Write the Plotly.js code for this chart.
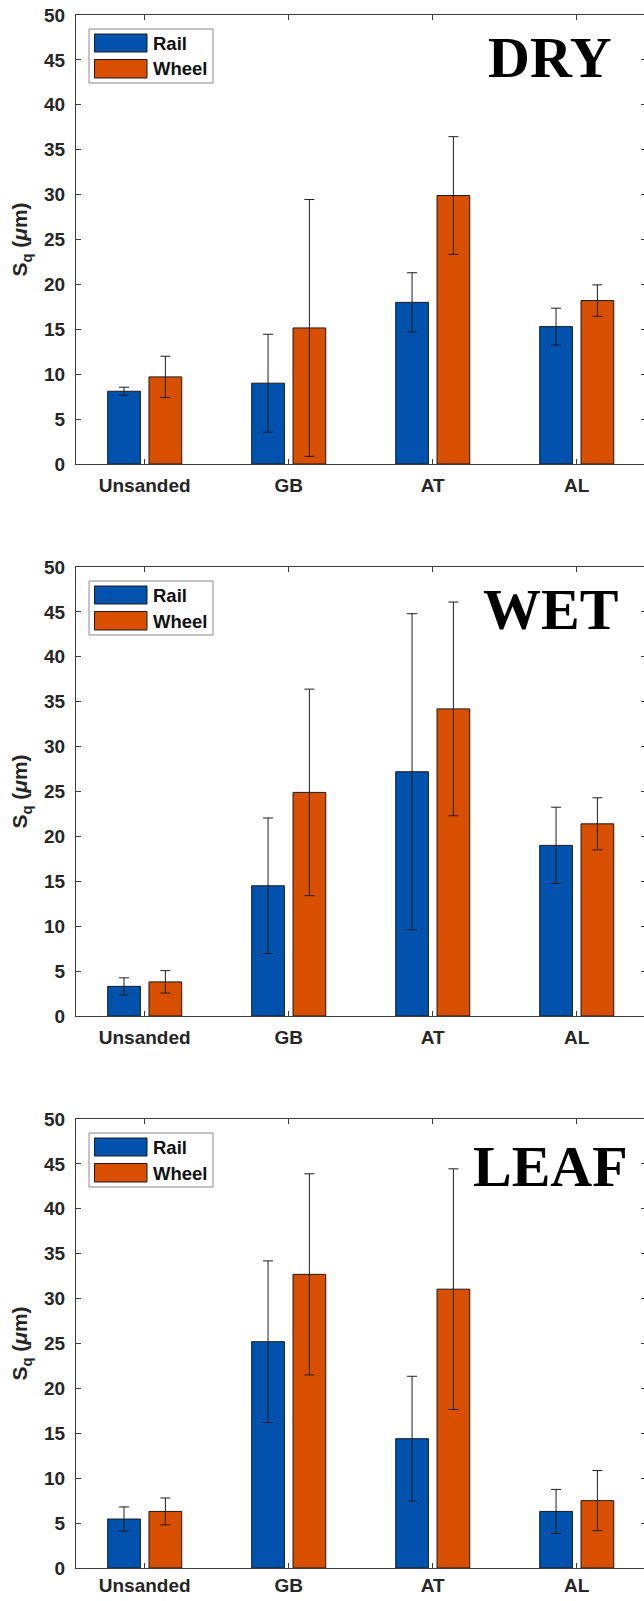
<!DOCTYPE html>
<html>
<head>
<meta charset="utf-8">
<script src="https://cdn.plot.ly/plotly-3.0.1.min.js"></script>
<style>
  html, body { margin: 0; padding: 0; background: #ffffff; overflow: hidden; }
  #chart { width: 650px; height: 1601px; }
</style>
</head>
<body>
<div id="chart"></div>
<script>
// Surface roughness Sq (µm) of rail and wheel specimens, by sand type and contact condition
const categories = ['Unsanded', 'GB', 'AT', 'AL'];
const conditions = ['DRY', 'WET', 'LEAF'];
const seriesNames = ['Rail', 'Wheel'];

// Mean values
const railDry    = [8.1, 9.0, 18.0, 15.3];
const wheelDry   = [9.7, 15.15, 29.9, 18.2];
const railWet    = [3.3, 14.5, 27.2, 19.0];
const wheelWet   = [3.8, 24.9, 34.2, 21.4];
const railLeaf   = [5.45, 25.2, 14.4, 6.3];
const wheelLeaf  = [6.3, 32.7, 31.05, 7.5];

// Standard deviations (error bar half-lengths)
const railDryErr   = [0.45, 5.45, 3.3, 2.05];
const wheelDryErr  = [2.3, 14.3, 6.55, 1.75];
const railWetErr   = [0.95, 7.55, 17.6, 4.25];
const wheelWetErr  = [1.25, 11.5, 11.9, 2.9];
const railLeafErr  = [1.35, 9.0, 6.95, 2.45];
const wheelLeafErr = [1.5, 11.2, 13.4, 3.35];

const yTickVals = [0, 5, 10, 15, 20, 25, 30, 35, 40, 45, 50];

const railColor = '#0052ad';
const wheelColor = '#d94f00';
const seriesColors = [railColor, wheelColor];

const panels = [
  { rail: railDry,  wheel: wheelDry,  railErr: railDryErr,  wheelErr: wheelDryErr },
  { rail: railWet,  wheel: wheelWet,  railErr: railWetErr,  wheelErr: wheelWetErr },
  { rail: railLeaf, wheel: wheelLeaf, railErr: railLeafErr, wheelErr: wheelLeafErr }
];

// Page geometry in pixels
const W = 650, H = 1601;
const plotLeft = 76, plotRight = 646;
const panelTop = [15, 567, 1119];
const panelBottom = [464, 1016, 1568];
const labelDy = [42, 43, 47];
const xLabelStandoff = [4, 4, 0];
const fx = x => x / W;
const fy = y => 1 - y / H;

const axisColor = '#3c3c3c';
const tickFont = { family: 'Liberation Sans, Arial, sans-serif', size: 19, color: '#262626', weight: 'bold' };

const traces = [];
const layout = {
  width: W,
  height: H,
  margin: { l: 0, r: 0, t: 0, b: 0 },
  paper_bgcolor: '#ffffff',
  plot_bgcolor: '#ffffff',
  barmode: 'group',
  bargap: 0.426,
  bargroupgap: 0.208,
  showlegend: false,
  shapes: [],
  annotations: []
};

panels.forEach((p, i) => {
  const n = i === 0 ? '' : String(i + 1);
  const xa = 'x' + n, ya = 'y' + n;
  const errStyle = { type: 'data', visible: true, color: '#1e1e1e', thickness: 1, width: 5 };

  traces.push({
    type: 'bar', name: seriesNames[0], x: categories, y: p.rail,
    xaxis: xa, yaxis: ya,
    marker: { color: railColor, line: { color: '#1a1a1a', width: 1 } },
    error_y: Object.assign({ array: p.railErr }, errStyle)
  });
  traces.push({
    type: 'bar', name: seriesNames[1], x: categories, y: p.wheel,
    xaxis: xa, yaxis: ya,
    marker: { color: wheelColor, line: { color: '#1a1a1a', width: 1 } },
    error_y: Object.assign({ array: p.wheelErr }, errStyle)
  });

  layout['xaxis' + n] = {
    domain: [fx(plotLeft), fx(plotRight)],
    anchor: ya,
    type: 'category',
    categoryorder: 'array',
    categoryarray: categories,
    range: [-0.477, 3.481],
    showline: true, mirror: 'ticks', linecolor: axisColor, linewidth: 1,
    ticks: 'inside', ticklen: 5, tickwidth: 1, tickcolor: axisColor,
    showgrid: false, zeroline: false,
    tickfont: tickFont,
    ticklabelstandoff: xLabelStandoff[i],
    fixedrange: true
  };
  layout['yaxis' + n] = {
    domain: [fy(panelBottom[i]), fy(panelTop[i])],
    anchor: xa,
    range: [0, 50],
    tickvals: yTickVals,
    showline: true, mirror: 'ticks', linecolor: axisColor, linewidth: 1,
    ticks: 'inside', ticklen: 5, tickwidth: 1, tickcolor: axisColor,
    showgrid: false, zeroline: false,
    tickfont: tickFont,
    ticklabelstandoff: 6,
    title: {
      text: 'S<sub>q</sub> (<i>μ</i>m)',
      font: { family: 'Liberation Sans, Arial, sans-serif', size: 21, color: '#262626', weight: 'bold' },
      standoff: 10
    },
    fixedrange: true
  };

  // Legend box with two swatches
  const t = panelTop[i];
  layout.shapes.push({
    type: 'rect', xref: 'paper', yref: 'paper',
    x0: fx(89), x1: fx(213), y0: fy(t + 14), y1: fy(t + 68),
    line: { color: '#8a8a8a', width: 1 }, fillcolor: '#ffffff', layer: 'above'
  });
  const swatchY = [[t + 19, t + 37], [t + 44.5, t + 63]];
  const textY = [t + 28.5, t + 54];
  seriesNames.forEach((name, k) => {
    layout.shapes.push({
      type: 'rect', xref: 'paper', yref: 'paper',
      x0: fx(94.5), x1: fx(147), y0: fy(swatchY[k][1]), y1: fy(swatchY[k][0]),
      line: { color: '#1a1a1a', width: 1 }, fillcolor: seriesColors[k], layer: 'above'
    });
    layout.annotations.push({
      xref: 'paper', yref: 'paper', x: fx(151), y: fy(textY[k]),
      xanchor: 'left', yanchor: 'middle', showarrow: false,
      text: name,
      font: { family: 'Liberation Sans, Arial, sans-serif', size: 18.5, color: '#111111', weight: 'bold' }
    });
  });

  // Condition label in the upper right of each panel
  layout.annotations.push({
    xref: 'paper', yref: 'paper', x: fx(550), y: fy(t + labelDy[i]),
    xanchor: 'center', yanchor: 'middle', showarrow: false,
    text: conditions[i],
    font: { family: 'Liberation Serif, Times New Roman, serif', size: 58, color: '#000000', weight: 'bold' }
  });
});

Plotly.newPlot('chart', traces, layout, { displayModeBar: false, staticPlot: true });
</script>
</body>
</html>
